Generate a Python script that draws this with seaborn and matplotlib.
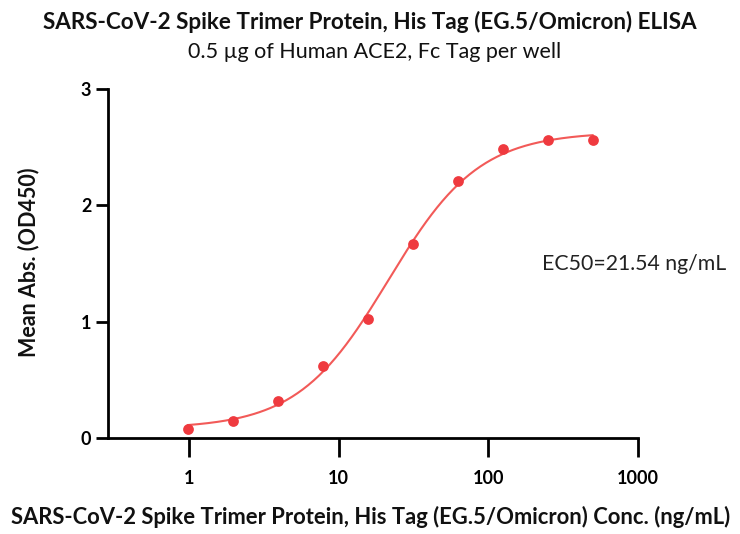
import numpy as np
import pandas as pd
import matplotlib
matplotlib.use("Agg")
import matplotlib.pyplot as plt
import seaborn as sns

# ---- data ----
conc = [0.977, 1.953, 3.906, 7.813, 15.625, 31.25, 62.5, 125.0, 250.0, 500.0]
od450 = [0.08, 0.15, 0.32, 0.62, 1.02, 1.67, 2.21, 2.48, 2.56, 2.56]
x_ticks = [1, 10, 100, 1000]
y_ticks = [0, 1, 2, 3]
title = "SARS-CoV-2 Spike Trimer Protein, His Tag (EG.5/Omicron) ELISA"
subtitle = "0.5 \u00b5g of Human ACE2, Fc Tag per well"
xlabel = "SARS-CoV-2 Spike Trimer Protein, His Tag (EG.5/Omicron) Conc. (ng/mL)"
ylabel = "Mean Abs. (OD450)"
ec50_label = "EC50=21.54 ng/mL"

# ---- 4PL fit (grid over hill/EC50, linear solve for bottom/top) ----
xd = np.array(conc)
yd = np.array(od450)
best = None
for h in np.linspace(0.8, 2.0, 121):
    for lec in np.linspace(np.log10(10), np.log10(40), 121):
        f = 1.0 / (1.0 + (10 ** lec / xd) ** h)
        A = np.column_stack([1 - f, f])
        coef, *_ = np.linalg.lstsq(A, yd, rcond=None)
        r = np.sum((A @ coef - yd) ** 2)
        if best is None or r < best[0]:
            best = (r, h, 10 ** lec, coef)
_, hill, ec50, (bottom, top) = best
xf = np.logspace(np.log10(conc[0]), np.log10(conc[-1]), 300)
yf = bottom + (top - bottom) / (1 + (ec50 / xf) ** hill)

pts = pd.DataFrame({"conc": conc, "od": od450})
fit = pd.DataFrame({"conc": xf, "od": yf})

sns.set_theme(style="ticks")
plt.rcParams["font.family"] = ["Lato", "DejaVu Sans"]

fig = plt.figure(figsize=(7.4, 5.34), dpi=100)
W, H = 740, 534
ax = fig.add_axes([108 / W, 1 - 438 / H, (638 - 108) / W, (438 - 89) / H])

line_c = "#F25A58"
pt_c = "#EF3A3F"
sns.lineplot(data=fit, x="conc", y="od", ax=ax, color=line_c, linewidth=1.5)
sns.scatterplot(data=pts, x="conc", y="od", ax=ax, color=pt_c, s=60,
                edgecolor=pt_c, linewidth=0, zorder=3)

ax.set_xscale("log")
ax.set_xlim(0.287, 1000)
ax.set_ylim(0, 3)
ax.set_xticks(x_ticks)
ax.set_xticklabels([str(t) for t in x_ticks])
ax.xaxis.set_minor_locator(matplotlib.ticker.NullLocator())
ax.set_yticks(y_ticks)
ax.set_yticklabels([str(t) for t in y_ticks])
ax.set_xlabel("")
ax.set_ylabel("")

for s in ["top", "right"]:
    ax.spines[s].set_visible(False)
for s in ["left", "bottom"]:
    ax.spines[s].set_linewidth(2)
    ax.spines[s].set_color("black")
ax.tick_params(axis="x", length=14, width=2, pad=9, labelsize=13, colors="black")
ax.tick_params(axis="y", length=9, width=2, pad=3, labelsize=13, colors="black")
for lab in ax.get_xticklabels() + ax.get_yticklabels():
    lab.set_fontweight("bold")

ax.text(542 / W, 1 - 264 / H, ec50_label, transform=fig.transFigure,
        fontsize=15.3, ha="left", va="center", color="#222222")

fig.text(370 / W, 1 - 22 / H, title, ha="center", va="center",
         fontsize=16.2, fontweight="bold", color="#111111")
fig.text(375 / W, 1 - 52 / H, subtitle, ha="center", va="center",
         fontsize=15.5, color="#111111")
fig.text(371 / W, 1 - 517 / H, xlabel, ha="center", va="center",
         fontsize=15.8, fontweight="bold", color="#111111")
fig.text(29 / W, 1 - 262 / H, ylabel, ha="center", va="center", rotation=90,
         fontsize=15.5, fontweight="bold", color="#111111")

fig.savefig("out.png", dpi=100)
